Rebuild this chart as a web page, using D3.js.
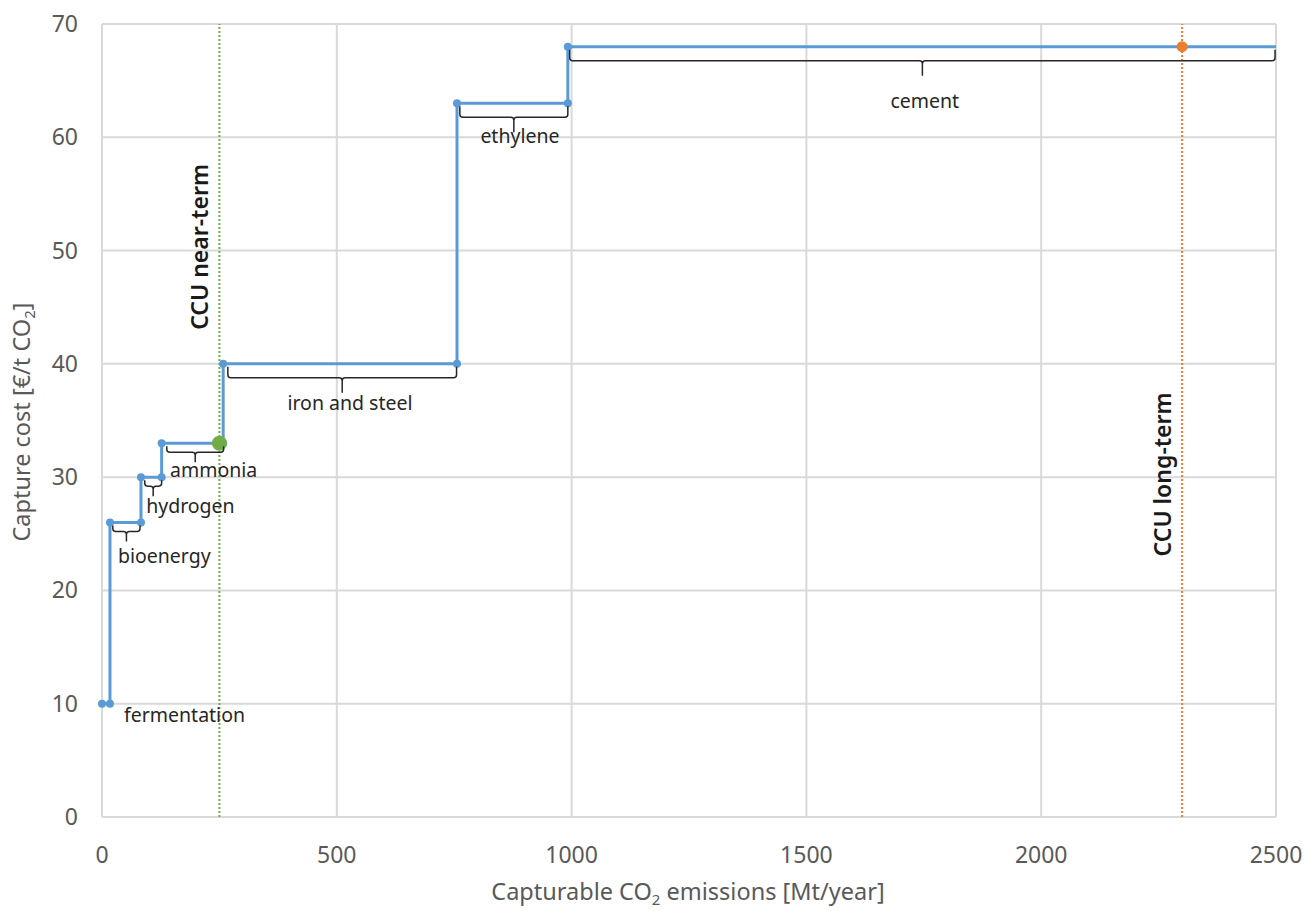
<!DOCTYPE html>
<html lang="en">
<head>
    <meta charset="UTF-8">
    <title>Capture cost curve</title>
    <script src="https://d3js.org/d3.v7.min.js"></script>
    <style>
        body {
            margin: 0;
            background: #fff;
        }

        text {
            font-family: "Noto Sans", "Open Sans", sans-serif;
        }

        .grid line {
            stroke: #d9d9d9;
            stroke-width: 2;
        }

        .tick-label {
            fill: #595959;
            font-size: 23px;
        }

        .note {
            fill: #262626;
            font-size: 19.5px;
        }

        .bracket {
            fill: none;
            stroke: #262626;
            stroke-width: 1.5;
        }
    </style>
</head>

<body>
    <script>
        // step curve of capture cost vs cumulative capturable emissions
        var stepX = [0, 17, 17, 83, 83, 127, 127, 258, 258, 756, 756, 992, 992, 2500];
        var stepY = [10, 10, 26, 26, 30, 30, 33, 33, 40, 40, 63, 63, 68, 68];

        var xTicks = [0, 500, 1000, 1500, 2000, 2500];
        var yTicks = [0, 10, 20, 30, 40, 50, 60, 70];

        // CCU demand markers
        var ccuNames = ["CCU near-term", "CCU long-term"];
        var ccuX = [250, 2300];
        var ccuY = [33, 68];
        var ccuLabelY = [43, 23];

        // sector brackets: span along x and the cost level they sit under
        var sectors = ["bioenergy", "hydrogen", "ammonia", "iron and steel", "ethylene", "cement"];
        var sectorFrom = [23, 91, 138, 268, 762, 996];
        var sectorTo = [81, 127, 259, 755, 992, 2498];
        var sectorLevel = [26, 30, 33, 40, 63, 68];

        // sector label anchors (data units)
        var labelText = ["fermentation", "bioenergy", "hydrogen", "ammonia", "iron and steel", "ethylene", "cement"];
        var labelX = [47, 34, 94, 145, 528, 890, 1752];
        var labelY = [8.4, 22.4, 26.8, 30, 35.9, 59.5, 62.6];
        var labelAnchor = ["start", "start", "start", "start", "middle", "middle", "middle"];

        var width = 1307,
            height = 911;
        var margin = { left: 102, right: 31, top: 24, bottom: 94 };

        var svg = d3.select("body").append("svg")
            .attr("width", width)
            .attr("height", height);

        var x = d3.scaleLinear()
            .domain([0, 2500])
            .range([margin.left, width - margin.right]);

        var y = d3.scaleLinear()
            .domain([0, 70])
            .range([height - margin.bottom, margin.top]);

        // gridlines
        var grid = svg.append("g").attr("class", "grid");
        grid.selectAll(".gy")
            .data(yTicks)
            .enter().append("line")
            .attr("x1", x(0)).attr("x2", x(2500))
            .attr("y1", d => y(d)).attr("y2", d => y(d));
        grid.selectAll(".gx")
            .data(xTicks)
            .enter().append("line")
            .attr("y1", y(0)).attr("y2", y(70))
            .attr("x1", d => x(d)).attr("x2", d => x(d));

        // tick labels
        svg.append("g").selectAll("text")
            .data(yTicks)
            .enter().append("text")
            .attr("class", "tick-label")
            .attr("x", x(0) - 24)
            .attr("y", d => y(d))
            .attr("dy", "0.35em")
            .attr("text-anchor", "end")
            .text(d => d);

        svg.append("g").selectAll("text")
            .data(xTicks)
            .enter().append("text")
            .attr("class", "tick-label")
            .attr("x", d => x(d))
            .attr("y", y(0) + 46)
            .attr("text-anchor", "middle")
            .text(d => d);

        // axis titles
        var xt = svg.append("text")
            .attr("x", 688)
            .attr("y", 900)
            .attr("text-anchor", "middle")
            .attr("fill", "#595959")
            .attr("font-size", 23.5);
        xt.append("tspan").text("Capturable CO");
        xt.append("tspan").attr("font-size", 15).attr("dy", 5).text("2");
        xt.append("tspan").attr("dy", -5).text(" emissions [Mt/year]");

        var yt = svg.append("text")
            .attr("transform", "translate(30,422) rotate(-90)")
            .attr("text-anchor", "middle")
            .attr("fill", "#595959")
            .attr("font-size", 23.5);
        yt.append("tspan").text("Capture cost [€/t CO");
        yt.append("tspan").attr("font-size", 15).attr("dy", 5).text("2");
        yt.append("tspan").attr("dy", -5).text("]");

        // CCU dotted lines
        var ccuColor = ["#70ad47", "#ed7d31"];
        svg.append("g").selectAll("line")
            .data(ccuX)
            .enter().append("line")
            .attr("x1", d => x(d)).attr("x2", d => x(d))
            .attr("y1", y(0)).attr("y2", y(70))
            .attr("stroke", (d, i) => ccuColor[i])
            .attr("stroke-width", 2)
            .attr("stroke-dasharray", "2,2");

        svg.append("g").selectAll("text")
            .data(ccuNames)
            .enter().append("text")
            .attr("transform", (d, i) => `translate(${x(ccuX[i]) - 11},${y(ccuLabelY[i])}) rotate(-90)`)
            .attr("fill", "#1a1a1a")
            .attr("font-size", 23)
            .attr("font-weight", 600)
            .text(d => d);

        // step line
        var pts = stepX.map((v, i) => [v, stepY[i]]);
        svg.append("path")
            .datum(pts)
            .attr("fill", "none")
            .attr("stroke", "#5b9bd5")
            .attr("stroke-width", 3)
            .attr("d", d3.line().x(d => x(d[0])).y(d => y(d[1])));

        svg.append("g").selectAll("circle")
            .data(pts.slice(0, -1))
            .enter().append("circle")
            .attr("cx", d => x(d[0]))
            .attr("cy", d => y(d[1]))
            .attr("r", 4)
            .attr("fill", "#5b9bd5");

        // CCU points
        svg.append("g").selectAll("circle")
            .data(ccuX)
            .enter().append("circle")
            .attr("cx", d => x(d))
            .attr("cy", (d, i) => y(ccuY[i]))
            .attr("r", (d, i) => i == 0 ? 7.5 : 5.5)
            .attr("fill", (d, i) => ccuColor[i]);

        // brackets under each sector step
        function bracketPath(i) {
            var x0 = x(sectorFrom[i]),
                x1 = x(sectorTo[i]),
                top = y(sectorLevel[i]) + 3;
            var big = (x1 - x0) > 100;
            var h = big ? 11 : 6,
                t = big ? 15 : 10,
                r = Math.min(3, (x1 - x0) / 6);
            var cx = (x0 + x1) / 2,
                b = top + h;
            return `M${x0},${top} L${x0},${b - r} Q${x0},${b} ${x0 + r},${b}` +
                ` L${cx - r},${b} Q${cx},${b} ${cx},${b + r} L${cx},${b + t}` +
                ` M${cx},${b + r} Q${cx},${b} ${cx + r},${b} L${x1 - r},${b}` +
                ` Q${x1},${b} ${x1},${b - r} L${x1},${top}`;
        }

        svg.append("g").selectAll("path")
            .data(sectors)
            .enter().append("path")
            .attr("class", "bracket")
            .attr("d", (d, i) => bracketPath(i));

        svg.append("g").selectAll("text")
            .data(labelText)
            .enter().append("text")
            .attr("class", "note")
            .attr("x", (d, i) => x(labelX[i]))
            .attr("y", (d, i) => y(labelY[i]))
            .attr("text-anchor", (d, i) => labelAnchor[i])
            .text(d => d);
    </script>
</body>

</html>
